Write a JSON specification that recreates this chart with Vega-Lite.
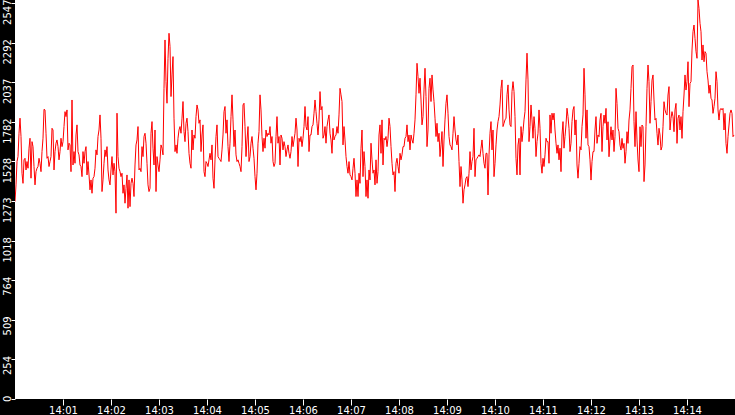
{
"$schema":"https://vega.github.io/schema/vega-lite/v6.json",
"width":720,"height":399,
"autosize":{"type":"none"},
"padding":{"left":15,"top":0,"right":0,"bottom":16},
"background":"black",
"config":{"view":{"fill":"white","stroke":null},"axis":{"labelFont":"DejaVu Sans","labelFontSize":10,"labelColor":"white","tickColor":"white","domain":false,"grid":false}},
"data":{"values":[
{"s":0,"v":1270},{"s":1.25,"v":1377},{"s":2.5,"v":1527},{"s":3.75,"v":1559},{"s":5,"v":1709},{"s":6.25,"v":1806},{"s":7.5,"v":1688},{"s":8.75,"v":1452},{"s":10,"v":1387},{"s":11.25,"v":1538},{"s":12.5,"v":1548},{"s":13.75,"v":1473},{"s":15,"v":1527},{"s":16.25,"v":1484},{"s":17.5,"v":1613},{"s":18.75,"v":1677},{"s":20,"v":1420},{"s":21.25,"v":1655},{"s":22.5,"v":1623},{"s":23.75,"v":1495},{"s":25,"v":1377},{"s":26.25,"v":1462},{"s":27.5,"v":1484},{"s":28.75,"v":1495},{"s":30,"v":1548},{"s":31.25,"v":1516},{"s":32.5,"v":1462},{"s":33.75,"v":1591},{"s":35,"v":1677},{"s":36.25,"v":1863},{"s":37.5,"v":1859},{"s":38.75,"v":1709},{"s":40,"v":1548},{"s":41.25,"v":1559},{"s":42.5,"v":1495},{"s":43.75,"v":1527},{"s":45,"v":1559},{"s":46.25,"v":1741},{"s":47.5,"v":1730},{"s":48.75,"v":1473},{"s":50,"v":1591},{"s":51.25,"v":1645},{"s":52.5,"v":1666},{"s":53.75,"v":1623},{"s":55,"v":1538},{"s":56.25,"v":1591},{"s":57.5,"v":1677},{"s":58.75,"v":1623},{"s":60,"v":1655},{"s":61.25,"v":1752},{"s":62.5,"v":1848},{"s":63.75,"v":1816},{"s":65,"v":1859},{"s":66.25,"v":1602},{"s":67.5,"v":1645},{"s":68.75,"v":1634},{"s":70,"v":1462},{"s":71.25,"v":1923},{"s":72.5,"v":1505},{"s":73.75,"v":1591},{"s":75,"v":1516},{"s":76.25,"v":1698},{"s":77.5,"v":1763},{"s":78.75,"v":1591},{"s":80,"v":1570},{"s":81.25,"v":1505},{"s":82.5,"v":1495},{"s":83.75,"v":1430},{"s":85,"v":1591},{"s":86.25,"v":1516},{"s":87.5,"v":1591},{"s":88.75,"v":1623},{"s":90,"v":1441},{"s":91.25,"v":1527},{"s":92.5,"v":1441},{"s":93.75,"v":1345},{"s":95,"v":1409},{"s":96.25,"v":1323},{"s":97.5,"v":1420},{"s":98.75,"v":1430},{"s":100,"v":1484},{"s":101.25,"v":1602},{"s":102.5,"v":1570},{"s":103.75,"v":1688},{"s":105,"v":1730},{"s":106.25,"v":1827},{"s":107.5,"v":1677},{"s":108.75,"v":1334},{"s":110,"v":1409},{"s":111.25,"v":1516},{"s":112.5,"v":1602},{"s":113.75,"v":1559},{"s":115,"v":1623},{"s":116.25,"v":1473},{"s":117.5,"v":1409},{"s":118.75,"v":1377},{"s":120,"v":1473},{"s":121.25,"v":1559},{"s":122.5,"v":1441},{"s":123.75,"v":1516},{"s":125,"v":1462},{"s":126.25,"v":1195},{"s":127.5,"v":1838},{"s":128.75,"v":1559},{"s":130,"v":1484},{"s":131.25,"v":1462},{"s":132.5,"v":1430},{"s":133.75,"v":1452},{"s":135,"v":1323},{"s":136.25,"v":1377},{"s":137.5,"v":1259},{"s":138.75,"v":1355},{"s":140,"v":1441},{"s":141.25,"v":1227},{"s":142.5,"v":1409},{"s":143.75,"v":1237},{"s":145,"v":1387},{"s":146.25,"v":1420},{"s":147.5,"v":1387},{"s":148.75,"v":1302},{"s":150,"v":1505},{"s":151.25,"v":1634},{"s":152.5,"v":1666},{"s":153.75,"v":1752},{"s":155,"v":1473},{"s":156.25,"v":1484},{"s":157.5,"v":1462},{"s":158.75,"v":1623},{"s":160,"v":1559},{"s":161.25,"v":1688},{"s":162.5,"v":1709},{"s":163.75,"v":1645},{"s":165,"v":1516},{"s":166.25,"v":1377},{"s":167.5,"v":1334},{"s":168.75,"v":1355},{"s":170,"v":1709},{"s":171.25,"v":1784},{"s":172.5,"v":1613},{"s":173.75,"v":1505},{"s":175,"v":1730},{"s":176.25,"v":1334},{"s":177.5,"v":1559},{"s":178.75,"v":1505},
{"s":180,"v":1462},{"s":181.25,"v":1538},{"s":182.5,"v":1634},{"s":183.75,"v":1613},{"s":185,"v":1570},{"s":186.25,"v":1998},{"s":187.5,"v":2309},{"s":188.75,"v":2041},{"s":190,"v":1902},{"s":191.25,"v":2191},{"s":192.5,"v":2352},{"s":193.75,"v":2267},{"s":195,"v":1945},{"s":196.25,"v":2084},{"s":197.5,"v":2202},{"s":198.75,"v":1806},{"s":200,"v":1591},{"s":201.25,"v":1634},{"s":202.5,"v":1580},{"s":203.75,"v":1677},{"s":205,"v":1730},{"s":206.25,"v":1752},{"s":207.5,"v":1709},{"s":208.75,"v":1806},{"s":210,"v":1913},{"s":211.25,"v":1720},{"s":212.5,"v":1655},{"s":213.75,"v":1773},{"s":215,"v":1806},{"s":216.25,"v":1720},{"s":217.5,"v":1580},{"s":218.75,"v":1516},{"s":220,"v":1484},{"s":221.25,"v":1730},{"s":222.5,"v":1602},{"s":223.75,"v":1698},{"s":225,"v":1677},{"s":226.25,"v":1816},{"s":227.5,"v":1891},{"s":228.75,"v":1859},{"s":230,"v":1773},{"s":231.25,"v":1795},{"s":232.5,"v":1591},{"s":233.75,"v":1698},{"s":235,"v":1763},{"s":236.25,"v":1462},{"s":237.5,"v":1430},{"s":238.75,"v":1527},{"s":240,"v":1516},{"s":241.25,"v":1495},{"s":242.5,"v":1538},{"s":243.75,"v":1580},{"s":245,"v":1538},{"s":246.25,"v":1634},{"s":247.5,"v":1420},{"s":248.75,"v":1355},{"s":250,"v":1538},{"s":251.25,"v":1688},{"s":252.5,"v":1763},{"s":253.75,"v":1559},{"s":255,"v":1548},{"s":256.25,"v":1538},{"s":257.5,"v":1527},{"s":258.75,"v":1602},{"s":260,"v":1698},{"s":261.25,"v":1848},{"s":262.5,"v":1881},{"s":263.75,"v":1709},{"s":265,"v":1795},{"s":266.25,"v":1623},{"s":267.5,"v":1527},{"s":268.75,"v":1645},{"s":270,"v":1816},{"s":271.25,"v":1956},{"s":272.5,"v":1795},{"s":273.75,"v":1623},{"s":275,"v":1730},{"s":276.25,"v":1570},{"s":277.5,"v":1527},{"s":278.75,"v":1538},{"s":280,"v":1516},{"s":281.25,"v":1495},{"s":282.5,"v":1462},{"s":283.75,"v":1623},{"s":285,"v":1891},{"s":286.25,"v":1902},{"s":287.5,"v":1752},{"s":288.75,"v":1559},{"s":290,"v":1666},{"s":291.25,"v":1752},{"s":292.5,"v":1527},{"s":293.75,"v":1559},{"s":295,"v":1645},{"s":296.25,"v":1688},{"s":297.5,"v":1613},{"s":298.75,"v":1548},{"s":300,"v":1430},{"s":301.25,"v":1345},{"s":302.5,"v":1452},{"s":303.75,"v":1645},{"s":305,"v":1720},{"s":306.25,"v":1956},{"s":307.5,"v":1859},{"s":308.75,"v":1688},{"s":310,"v":1591},{"s":311.25,"v":1677},{"s":312.5,"v":1613},{"s":313.75,"v":1730},{"s":315,"v":1688},{"s":316.25,"v":1709},{"s":317.5,"v":1698},{"s":318.75,"v":1752},{"s":320,"v":1645},{"s":321.25,"v":1688},{"s":322.5,"v":1527},{"s":323.75,"v":1495},{"s":325,"v":1516},{"s":326.25,"v":1688},{"s":327.5,"v":1816},{"s":328.75,"v":1645},{"s":330,"v":1688},{"s":331.25,"v":1505},{"s":332.5,"v":1698},{"s":333.75,"v":1677},{"s":335,"v":1602},{"s":336.25,"v":1655},{"s":337.5,"v":1623},{"s":338.75,"v":1559},{"s":340,"v":1602},{"s":341.25,"v":1634},{"s":342.5,"v":1580},{"s":343.75,"v":1548},{"s":345,"v":1591},{"s":346.25,"v":1688},{"s":347.5,"v":1623},{"s":348.75,"v":1666},{"s":350,"v":1709},{"s":351.25,"v":1806},{"s":352.5,"v":1730},{"s":353.75,"v":1495},{"s":355,"v":1677},{"s":356.25,"v":1655},{"s":357.5,"v":1688},{"s":358.75,"v":1623},
{"s":360,"v":1677},{"s":361.25,"v":1752},{"s":362.5,"v":1881},{"s":363.75,"v":1752},{"s":365,"v":1730},{"s":366.25,"v":1816},{"s":367.5,"v":1591},{"s":368.75,"v":1698},{"s":370,"v":1698},{"s":371.25,"v":1752},{"s":372.5,"v":1763},{"s":373.75,"v":1838},{"s":375,"v":1923},{"s":376.25,"v":1848},{"s":377.5,"v":1773},{"s":378.75,"v":1698},{"s":380,"v":1795},{"s":381.25,"v":1977},{"s":382.5,"v":1859},{"s":383.75,"v":1881},{"s":385,"v":1677},{"s":386.25,"v":1698},{"s":387.5,"v":1752},{"s":388.75,"v":1645},{"s":390,"v":1752},{"s":391.25,"v":1795},{"s":392.5,"v":1827},{"s":393.75,"v":1709},{"s":395,"v":1666},{"s":396.25,"v":1580},{"s":397.5,"v":1741},{"s":398.75,"v":1666},{"s":400,"v":1688},{"s":401.25,"v":1698},{"s":402.5,"v":1752},{"s":403.75,"v":1709},{"s":405,"v":1827},{"s":406.25,"v":1998},{"s":407.5,"v":1956},{"s":408.75,"v":1913},{"s":410,"v":1634},{"s":411.25,"v":1752},{"s":412.5,"v":1666},{"s":413.75,"v":1559},{"s":415,"v":1495},{"s":416.25,"v":1452},{"s":417.5,"v":1527},{"s":418.75,"v":1441},{"s":420,"v":1430},{"s":421.25,"v":1409},{"s":422.5,"v":1484},{"s":423.75,"v":1548},{"s":425,"v":1452},{"s":426.25,"v":1302},{"s":427.5,"v":1409},{"s":428.75,"v":1302},{"s":430,"v":1452},{"s":431.25,"v":1387},{"s":432.5,"v":1613},{"s":433.75,"v":1730},{"s":435,"v":1430},{"s":436.25,"v":1591},{"s":437.5,"v":1495},{"s":438.75,"v":1302},{"s":440,"v":1409},{"s":441.25,"v":1291},{"s":442.5,"v":1473},{"s":443.75,"v":1409},{"s":445,"v":1645},{"s":446.25,"v":1538},{"s":447.5,"v":1452},{"s":448.75,"v":1473},{"s":450,"v":1377},{"s":451.25,"v":1538},{"s":452.5,"v":1387},{"s":453.75,"v":1462},{"s":455,"v":1698},{"s":456.25,"v":1763},{"s":457.5,"v":1580},{"s":458.75,"v":1795},{"s":460,"v":1505},{"s":461.25,"v":1677},{"s":462.5,"v":1666},{"s":463.75,"v":1688},{"s":465,"v":1623},{"s":466.25,"v":1677},{"s":467.5,"v":1806},{"s":468.75,"v":1752},{"s":470,"v":1623},{"s":471.25,"v":1516},{"s":472.5,"v":1441},{"s":473.75,"v":1462},{"s":475,"v":1334},{"s":476.25,"v":1516},{"s":477.5,"v":1548},{"s":478.75,"v":1495},{"s":480,"v":1452},{"s":481.25,"v":1580},{"s":482.5,"v":1538},{"s":483.75,"v":1570},{"s":485,"v":1623},{"s":486.25,"v":1623},{"s":487.5,"v":1677},{"s":488.75,"v":1688},{"s":490,"v":1763},{"s":491.25,"v":1655},{"s":492.5,"v":1698},{"s":493.75,"v":1602},{"s":495,"v":1698},{"s":496.25,"v":1666},{"s":497.5,"v":1645},{"s":498.75,"v":1709},{"s":500,"v":1795},{"s":501.25,"v":1956},{"s":502.5,"v":2159},{"s":503.75,"v":2073},{"s":505,"v":1966},{"s":506.25,"v":2063},{"s":507.5,"v":1923},{"s":508.75,"v":1763},{"s":510,"v":1816},{"s":511.25,"v":1988},{"s":512.5,"v":2127},{"s":513.75,"v":1945},{"s":515,"v":1623},{"s":516.25,"v":1730},{"s":517.5,"v":1998},{"s":518.75,"v":2063},{"s":520,"v":1913},{"s":521.25,"v":2084},{"s":522.5,"v":1988},{"s":523.75,"v":1913},{"s":525,"v":1806},{"s":526.25,"v":1688},{"s":527.5,"v":1773},{"s":528.75,"v":1655},{"s":530,"v":1709},{"s":531.25,"v":1559},{"s":532.5,"v":1634},{"s":533.75,"v":1720},{"s":535,"v":1495},{"s":536.25,"v":1666},{"s":537.5,"v":1795},{"s":538.75,"v":1902},
{"s":540,"v":1956},{"s":541.25,"v":1838},{"s":542.5,"v":1688},{"s":543.75,"v":1634},{"s":545,"v":1623},{"s":546.25,"v":1602},{"s":547.5,"v":1709},{"s":548.75,"v":1816},{"s":550,"v":1730},{"s":551.25,"v":1666},{"s":552.5,"v":1634},{"s":553.75,"v":1698},{"s":555,"v":1527},{"s":556.25,"v":1366},{"s":557.5,"v":1495},{"s":558.75,"v":1409},{"s":560,"v":1259},{"s":561.25,"v":1345},{"s":562.5,"v":1377},{"s":563.75,"v":1420},{"s":565,"v":1430},{"s":566.25,"v":1366},{"s":567.5,"v":1452},{"s":568.75,"v":1591},{"s":570,"v":1473},{"s":571.25,"v":1527},{"s":572.5,"v":1559},{"s":573.75,"v":1741},{"s":575,"v":1430},{"s":576.25,"v":1538},{"s":577.5,"v":1548},{"s":578.75,"v":1559},{"s":580,"v":1570},{"s":581.25,"v":1559},{"s":582.5,"v":1613},{"s":583.75,"v":1666},{"s":585,"v":1580},{"s":586.25,"v":1516},{"s":587.5,"v":1484},{"s":588.75,"v":1580},{"s":590,"v":1580},{"s":591.25,"v":1312},{"s":592.5,"v":1570},{"s":593.75,"v":1709},{"s":595,"v":1784},{"s":596.25,"v":1602},{"s":597.5,"v":1730},{"s":598.75,"v":1430},{"s":600,"v":1516},{"s":601.25,"v":1634},{"s":602.5,"v":1730},{"s":603.75,"v":1784},{"s":605,"v":1816},{"s":606.25,"v":1891},{"s":607.5,"v":1998},{"s":608.75,"v":2052},{"s":610,"v":1752},{"s":611.25,"v":1773},{"s":612.5,"v":1795},{"s":613.75,"v":1806},{"s":615,"v":1956},{"s":616.25,"v":2020},{"s":617.5,"v":1859},{"s":618.75,"v":1763},{"s":620,"v":1752},{"s":621.25,"v":1977},{"s":622.5,"v":2041},{"s":623.75,"v":1977},{"s":625,"v":1816},{"s":626.25,"v":1548},{"s":627.5,"v":1441},{"s":628.75,"v":1634},{"s":630,"v":1677},{"s":631.25,"v":1441},{"s":632.5,"v":1752},{"s":633.75,"v":1655},{"s":635,"v":1720},{"s":636.25,"v":1795},{"s":637.5,"v":1848},{"s":638.75,"v":2052},{"s":640,"v":2224},{"s":641.25,"v":2052},{"s":642.5,"v":1655},{"s":643.75,"v":1752},{"s":645,"v":1891},{"s":646.25,"v":1795},{"s":647.5,"v":1677},{"s":648.75,"v":1816},{"s":650,"v":1741},{"s":651.25,"v":1559},{"s":652.5,"v":1655},{"s":653.75,"v":1709},{"s":655,"v":1859},{"s":656.25,"v":1741},{"s":657.5,"v":1516},{"s":658.75,"v":1452},{"s":660,"v":1548},{"s":661.25,"v":1495},{"s":662.5,"v":1570},{"s":663.75,"v":1677},{"s":665,"v":1655},{"s":666.25,"v":1655},{"s":667.5,"v":1516},{"s":668.75,"v":1827},{"s":670,"v":1709},{"s":671.25,"v":1838},{"s":672.5,"v":1795},{"s":673.75,"v":1838},{"s":675,"v":1730},{"s":676.25,"v":1645},{"s":677.5,"v":1580},{"s":678.75,"v":1634},{"s":680,"v":1538},{"s":681.25,"v":1613},{"s":682.5,"v":1462},{"s":683.75,"v":1698},{"s":685,"v":1784},{"s":686.25,"v":1613},{"s":687.5,"v":1688},{"s":688.75,"v":1763},{"s":690,"v":1870},{"s":691.25,"v":1816},{"s":692.5,"v":1741},{"s":693.75,"v":1591},{"s":695,"v":1645},{"s":696.25,"v":1784},{"s":697.5,"v":1859},{"s":698.75,"v":1881},{"s":700,"v":1698},{"s":701.25,"v":1795},{"s":702.5,"v":1505},{"s":703.75,"v":1420},{"s":705,"v":1516},{"s":706.25,"v":1623},{"s":707.5,"v":1602},{"s":708.75,"v":1752},{"s":710,"v":1827},{"s":711.25,"v":2127},{"s":712.5,"v":1956},{"s":713.75,"v":1677},{"s":715,"v":1859},{"s":716.25,"v":1634},{"s":717.5,"v":1623},{"s":718.75,"v":1538},
{"s":720,"v":1408},{"s":721.25,"v":1526},{"s":722.5,"v":1591},{"s":723.75,"v":1591},{"s":725,"v":1730},{"s":726.25,"v":1816},{"s":727.5,"v":1644},{"s":728.75,"v":1698},{"s":730,"v":1687},{"s":731.25,"v":1794},{"s":732.5,"v":1837},{"s":733.75,"v":1591},{"s":735,"v":1751},{"s":736.25,"v":1826},{"s":737.5,"v":1773},{"s":738.75,"v":1869},{"s":740,"v":1666},{"s":741.25,"v":1783},{"s":742.5,"v":1558},{"s":743.75,"v":1666},{"s":745,"v":1751},{"s":746.25,"v":1666},{"s":747.5,"v":1730},{"s":748.75,"v":1591},{"s":750,"v":1687},{"s":751.25,"v":1998},{"s":752.5,"v":1901},{"s":753.75,"v":1741},{"s":755,"v":1719},{"s":756.25,"v":1633},{"s":757.5,"v":1601},{"s":758.75,"v":1676},{"s":760,"v":1612},{"s":761.25,"v":1644},{"s":762.5,"v":1516},{"s":763.75,"v":1591},{"s":765,"v":1719},{"s":766.25,"v":1644},{"s":767.5,"v":1794},{"s":768.75,"v":1859},{"s":770,"v":1998},{"s":771.25,"v":2137},{"s":772.5,"v":2148},{"s":773.75,"v":1783},{"s":775,"v":1623},{"s":776.25,"v":1848},{"s":777.5,"v":1666},{"s":778.75,"v":1537},{"s":780,"v":1462},{"s":781.25,"v":1751},{"s":782.5,"v":1623},{"s":783.75,"v":1762},{"s":785,"v":1751},{"s":786.25,"v":1398},{"s":787.5,"v":1505},{"s":788.75,"v":1751},{"s":790,"v":1998},{"s":791.25,"v":2148},{"s":792.5,"v":2041},{"s":793.75,"v":1773},{"s":795,"v":1912},{"s":796.25,"v":2051},{"s":797.5,"v":2084},{"s":798.75,"v":1923},{"s":800,"v":1794},{"s":801.25,"v":1805},{"s":802.5,"v":1709},{"s":803.75,"v":1633},{"s":805,"v":1741},{"s":806.25,"v":1698},{"s":807.5,"v":1601},{"s":808.75,"v":1623},{"s":810,"v":1751},{"s":811.25,"v":1912},{"s":812.5,"v":1859},{"s":813.75,"v":1837},{"s":815,"v":1826},{"s":816.25,"v":1955},{"s":817.5,"v":2009},{"s":818.75,"v":1730},{"s":820,"v":1805},{"s":821.25,"v":1848},{"s":822.5,"v":1816},{"s":823.75,"v":1719},{"s":825,"v":1859},{"s":826.25,"v":1901},{"s":827.5,"v":1644},{"s":828.75,"v":1805},{"s":830,"v":1826},{"s":831.25,"v":1730},{"s":832.5,"v":1816},{"s":833.75,"v":1676},{"s":835,"v":1848},{"s":836.25,"v":1955},{"s":837.5,"v":2084},{"s":838.75,"v":1987},{"s":840,"v":2041},{"s":841.25,"v":2169},{"s":842.5,"v":1880},{"s":843.75,"v":2030},{"s":845,"v":2041},{"s":846.25,"v":2244},{"s":847.5,"v":2362},{"s":848.75,"v":2405},{"s":850,"v":2319},{"s":851.25,"v":2234},{"s":852.5,"v":2191},{"s":853.75,"v":2566},{"s":855,"v":2512},{"s":856.25,"v":2416},{"s":857.5,"v":2362},{"s":858.75,"v":2180},{"s":860,"v":2277},{"s":861.25,"v":2169},{"s":862.5,"v":2234},{"s":863.75,"v":2223},{"s":865,"v":2105},{"s":866.25,"v":2051},{"s":867.5,"v":1966},{"s":868.75,"v":2019},{"s":870,"v":1934},{"s":871.25,"v":1923},{"s":872.5,"v":1837},{"s":873.75,"v":1880},{"s":875,"v":1934},{"s":876.25,"v":2105},{"s":877.5,"v":2041},{"s":878.75,"v":1859},{"s":880,"v":1794},{"s":881.25,"v":1859},{"s":882.5,"v":1869},{"s":883.75,"v":1859},{"s":885,"v":1869},{"s":886.25,"v":1730},{"s":887.5,"v":1837},{"s":888.75,"v":1644},{"s":890,"v":1580},{"s":891.25,"v":1687},{"s":892.5,"v":1762},{"s":893.75,"v":1837},{"s":895,"v":1859},{"s":896.25,"v":1837},{"s":897.5,"v":1687},{"s":898.75,"v":1698}
]},
"mark":{"type":"line","color":"#ff0000","strokeWidth":1,"clip":true},
"encoding":{
"x":{"field":"s","type":"quantitative","scale":{"domain":[0,900],"nice":false,"zero":false},
"axis":{"title":null,"orient":"bottom","values":[60,120,180,240,300,360,420,480,540,600,660,720,780,840],"labelExpr":"'14:' + (datum.value < 600 ? '0' : '') + (datum.value / 60)","tickSize":6,"labelPadding":0,"labelFlush":false,"labelOverlap":false}},
"y":{"field":"v","type":"quantitative","scale":{"domain":[0,2566],"nice":false,"zero":true},
"axis":{"title":null,"orient":"left","values":[0,254.7,509.4,764.1,1018.8,1273.5,1528.2,1782.9,2037.6,2292.3,2547],"labelExpr":"floor(datum.value)","tickSize":4,"labelPadding":1,"labelAngle":270,"labelAlign":"right","labelBaseline":"alphabetic","labelOffset":-4,"labelFlush":false,"labelOverlap":false}}
}
}
